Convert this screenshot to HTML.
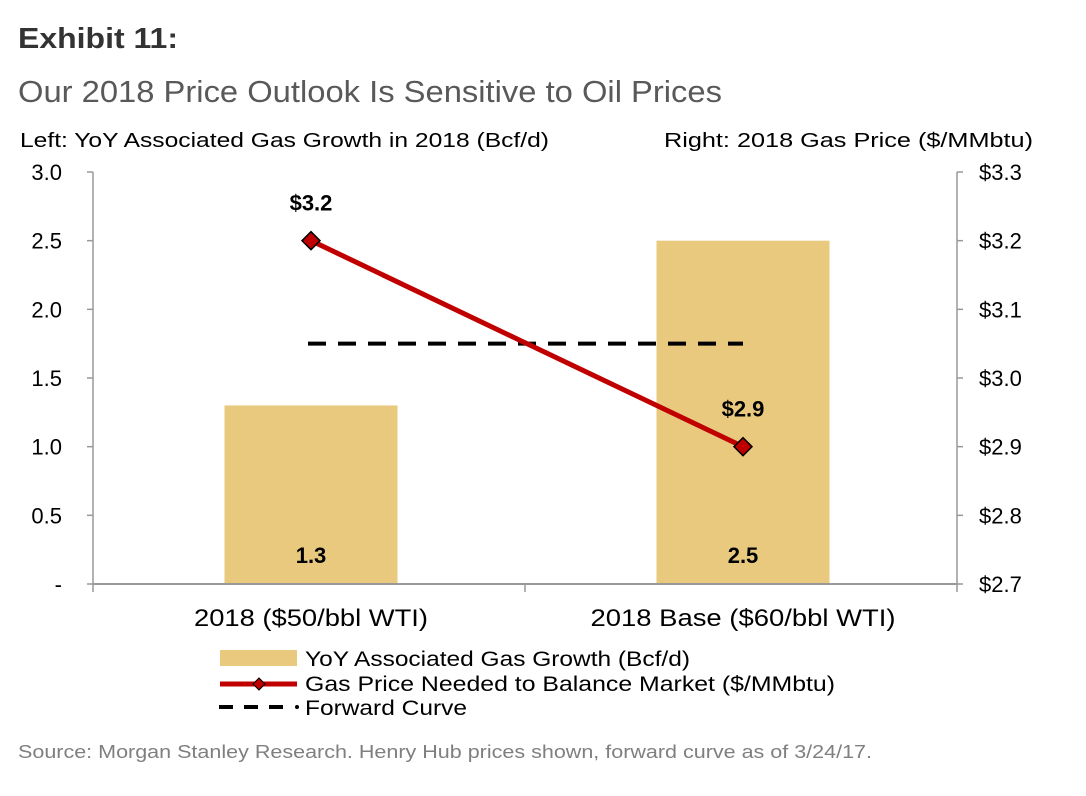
<!DOCTYPE html>
<html><head><meta charset="utf-8"><style>
body{margin:0;background:#fff;}
svg text{font-family:"Liberation Sans",Arial,sans-serif;}
</style></head><body>
<svg width="1086" height="791" viewBox="0 0 1086 791">
<text x="18" y="48" font-size="29" font-weight="bold" fill="#333" textLength="160" lengthAdjust="spacingAndGlyphs">Exhibit 11:</text>
<text x="18" y="102" font-size="31" fill="#595959" textLength="704" lengthAdjust="spacingAndGlyphs">Our 2018 Price Outlook Is Sensitive to Oil Prices</text>
<text x="20" y="147" font-size="20" fill="#000" textLength="529" lengthAdjust="spacingAndGlyphs">Left: YoY Associated Gas Growth in 2018 (Bcf/d)</text>
<text x="664" y="147" font-size="20" fill="#000" textLength="369" lengthAdjust="spacingAndGlyphs">Right: 2018 Gas Price ($/MMbtu)</text>
<g id="plot"></g>
<g>
<rect x="220" y="650" width="77" height="16" fill="#E8C97E"/>
<text x="305" y="666" font-size="21" textLength="385" lengthAdjust="spacingAndGlyphs">YoY Associated Gas Growth (Bcf/d)</text>
<line x1="220" y1="684" x2="297" y2="684" stroke="#C00000" stroke-width="5"/>
<polygon points="259,678 265,684 259,690 253,684" fill="#C00000" stroke="#000" stroke-width="1"/>
<text x="305" y="691" font-size="21" textLength="530" lengthAdjust="spacingAndGlyphs">Gas Price Needed to Balance Market ($/MMbtu)</text>
<line x1="219" y1="707" x2="290" y2="707" stroke="#000" stroke-width="4" stroke-dasharray="14,11"/>
<circle cx="297" cy="707" r="2" fill="#000"/>
<text x="305" y="715" font-size="21" textLength="162" lengthAdjust="spacingAndGlyphs">Forward Curve</text>
</g>
<text x="18" y="758" font-size="18" fill="#7f7f7f" textLength="854" lengthAdjust="spacingAndGlyphs">Source: Morgan Stanley Research. Henry Hub prices shown, forward curve as of 3/24/17.</text>
</svg>
<script>
const categories=["2018 ($50/bbl WTI)","2018 Base ($60/bbl WTI)"];
const growth=[1.3,2.5];
const price=[3.2,2.9];
const forward=[3.05,3.05];
const leftTicks=[0,0.5,1.0,1.5,2.0,2.5,3.0];
const leftTickLabels=["-","0.5","1.0","1.5","2.0","2.5","3.0"];
const rightTicks=[2.7,2.8,2.9,3.0,3.1,3.2,3.3];
const catLens=[234,305];

const NS="http://www.w3.org/2000/svg";
const g=document.getElementById('plot');
const X0=93,X1=957,Y0=584,Y1=172;
const yL=v=>Y0-(v-0)/(3-0)*(Y0-Y1);
const yR=v=>Y0-(v-2.7)/(3.3-2.7)*(Y0-Y1);
const band=(X1-X0)/categories.length;
const xC=i=>X0+band*(i+0.5)+2;
function mk(t,a,parent){const e=document.createElementNS(NS,t);for(const k in a)e.setAttribute(k,a[k]);(parent||g).appendChild(e);return e;}
let e=mk('line',{x1:X0,y1:Y1,x2:X0,y2:Y0,stroke:'#999','stroke-width':1.5});


e=mk('line',{x1:X1,y1:Y1,x2:X1,y2:Y0,stroke:'#999','stroke-width':1.5});


leftTicks.forEach((v,i)=>{
  mk('line',{x1:X0-6,y1:yL(v),x2:X0,y2:yL(v),stroke:'#999','stroke-width':1.5});
  const t=mk('text',{x:62,y:yL(v)+8,'font-size':22,'text-anchor':'end'});t.textContent=leftTickLabels[i];
  
  
});
rightTicks.forEach(v=>{
  mk('line',{x1:X1,y1:yR(v),x2:X1+6,y2:yR(v),stroke:'#999','stroke-width':1.5});
  const t=mk('text',{x:979,y:yR(v)+8,'font-size':22});t.textContent='$'+v.toFixed(1);
  
  
});
growth.forEach((v,i)=>{
  const w=173;
  const r=mk('rect',{x:xC(i)-w/2,y:yL(v),width:w,height:Y0-yL(v),fill:'#E8C97E'});
  
  
  const t=mk('text',{x:xC(i),y:Y0-21,'font-size':22,'font-weight':'bold','text-anchor':'middle'});t.textContent=v.toFixed(1);
  
  
});
e=mk('line',{x1:X0,y1:Y0,x2:X1,y2:Y0,stroke:'#999','stroke-width':2});


for(let i=0;i<=categories.length;i++)mk('line',{x1:X0+band*i,y1:Y0,x2:X0+band*i,y2:Y0+8,stroke:'#999','stroke-width':1.5});
categories.forEach((c,i)=>{
  const t=mk('text',{x:xC(i)-catLens[i]/2,y:626,'font-size':24,textLength:catLens[i],lengthAdjust:'spacingAndGlyphs'});t.textContent=c;
  
  
});
e=mk('line',{x1:xC(0)-3,y1:yR(forward[0]),x2:xC(1),y2:yR(forward[1]),stroke:'#000','stroke-width':4,'stroke-dasharray':'18,12'});


e=mk('polyline',{points:price.map((v,i)=>xC(i)+','+yR(v)).join(' '),fill:'none',stroke:'#C00000','stroke-width':5});


price.forEach((v,i)=>{
  const x=xC(i),y=yR(v);
  const p=mk('polygon',{points:`${x},${y-9} ${x+9},${y} ${x},${y+9} ${x-9},${y}`,fill:'#C00000',stroke:'#000','stroke-width':1.5});
  
  
  const t=mk('text',{x:x,y:y-30,'font-size':22,'font-weight':'bold','text-anchor':'middle'});t.textContent='$'+v.toFixed(1);
  
  
});
</script>
</body></html>
